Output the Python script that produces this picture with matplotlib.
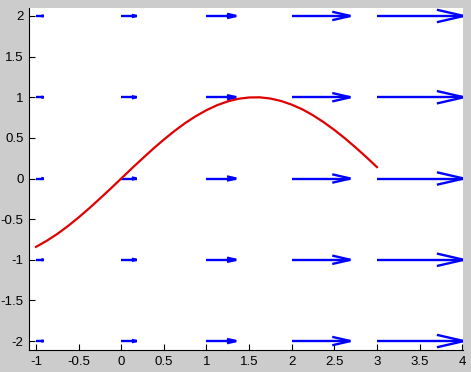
import numpy as np
import matplotlib
matplotlib.use('Agg')
import matplotlib.pyplot as plt
from matplotlib.collections import LineCollection

# quiver grid and arrow lengths
grid_x = [-1, 0, 1, 2, 3]
grid_y = [-2, -1, 0, 1, 2]
arrow_u = [0.09, 0.18, 0.35, 0.69, 1.02]

# red curve samples
curve_x = np.arange(-1, 3.001, 0.125)
curve_y = [-0.841, -0.767, -0.682, -0.585, -0.479, -0.366, -0.247, -0.125,
           0.0, 0.125, 0.247, 0.366, 0.479, 0.585, 0.682, 0.767, 0.841,
           0.902, 0.949, 0.981, 0.997, 0.999, 0.984, 0.954, 0.909, 0.851,
           0.778, 0.693, 0.598, 0.494, 0.382, 0.264, 0.141]

x_ticks = [-1, -0.5, 0, 0.5, 1, 1.5, 2, 2.5, 3, 3.5, 4]
y_ticks = [-2, -1.5, -1, -0.5, 0, 0.5, 1, 1.5, 2]

plt.rcParams['font.family'] = ['Liberation Sans', 'DejaVu Sans']

fig = plt.figure(figsize=(4.71, 3.72), dpi=100, facecolor='#cccccc')
ax = fig.add_axes([29 / 471, 1 - 350 / 372, 434 / 471, 342 / 372])
ax.set_facecolor('white')

# MATLAB-style open arrows: shaft plus two head lines
segs = []
for x0, u in zip(grid_x, arrow_u):
    for y0 in grid_y:
        tip = x0 + u
        back = tip - 0.31 * u
        hw = 0.075 * u
        segs.append([(x0, y0), (tip, y0)])
        segs.append([(back, y0 + hw), (tip, y0)])
        segs.append([(back, y0 - hw), (tip, y0)])
ax.add_collection(LineCollection(segs, colors='#0000ff', linewidths=1.7))

ax.plot(curve_x, curve_y, color='#e00000', lw=1.6)

ax.set_xlim(-1.082, 4.01)
ax.set_ylim(-2.11, 2.098)
ax.set_xticks(x_ticks)
ax.set_yticks(y_ticks)
ax.set_xticklabels(['%g' % t for t in x_ticks])
ax.set_yticklabels(['%g' % t for t in y_ticks])
ax.tick_params(direction='in', length=4, width=0.8, labelsize=9.5,
               pad=4, colors='black')
ax.spines['top'].set_visible(False)
ax.spines['right'].set_visible(False)
ax.spines['left'].set_linewidth(0.8)
ax.spines['bottom'].set_linewidth(0.8)

fig.savefig('out.png', dpi=100, facecolor=fig.get_facecolor())
